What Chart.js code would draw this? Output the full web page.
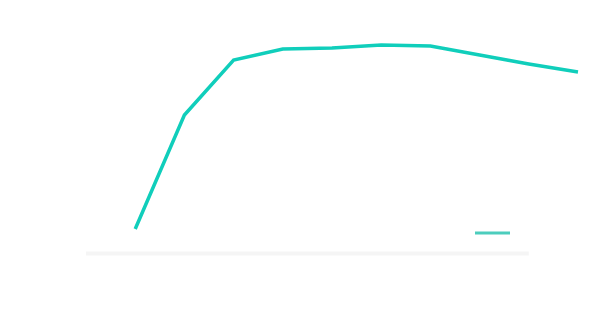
<!DOCTYPE html>
<html>
<head>
<meta charset="utf-8">
<script src="https://cdn.jsdelivr.net/npm/chart.js@4"></script>
<style>
html,body{margin:0;padding:0;background:#fff;}
#wrap{width:600px;height:309px;position:relative;}
</style>
</head>
<body>
<div id="wrap"><canvas id="c"></canvas></div>
<script>
const categories = ['0','1','2','3','4','5','6','7','8','9','10'];
const seriesValues = [null, 9.8, 55.4, 77.4, 81.8, 82.2, 83.4, 83.0, 79.4, 75.8, 72.6];
const baselineValues = [0, 0, 0, 0, 0, 0, 0, 0, 0, 0, null];
const seriesLabel = '';

new Chart(document.getElementById('c'), {
  type: 'line',
  data: {
    labels: categories,
    datasets: [
      {
        label: seriesLabel,
        data: seriesValues,
        borderColor: '#10cebb',
        backgroundColor: '#10cebb',
        borderWidth: 3.5,
        pointRadius: 0,
        tension: 0,
        fill: false,
        clip: false
      },
      {
        label: 'base',
        data: baselineValues,
        borderColor: '#f5f5f5',
        borderWidth: 4,
        pointRadius: 0,
        tension: 0,
        fill: false,
        clip: false
      }
    ]
  },
  options: {
    responsive: true,
    maintainAspectRatio: false,
    animation: false,
    layout: { padding: { left: 86, right: 22, top: 3.5, bottom: 60 } },
    scales: {
      x: { display: false, offset: false },
      y: { display: false, min: 35.4, max: 100 }
    },
    plugins: {
      tooltip: { enabled: false },
      legend: {
        position: 'bottom',
        align: 'end',
        labels: {
          usePointStyle: true,
          pointStyle: 'line',
          pointStyleWidth: 35,
          padding: 62,
          font: { size: 12 },
          filter: (item) => item.datasetIndex === 0,
          generateLabels: (chart) => {
            const items = Chart.defaults.plugins.legend.labels.generateLabels(chart);
            items.forEach(it => { it.strokeStyle = '#4ccdbd'; it.lineWidth = 3; });
            return items;
          }
        }
      }
    }
  }
});
</script>
</body>
</html>
